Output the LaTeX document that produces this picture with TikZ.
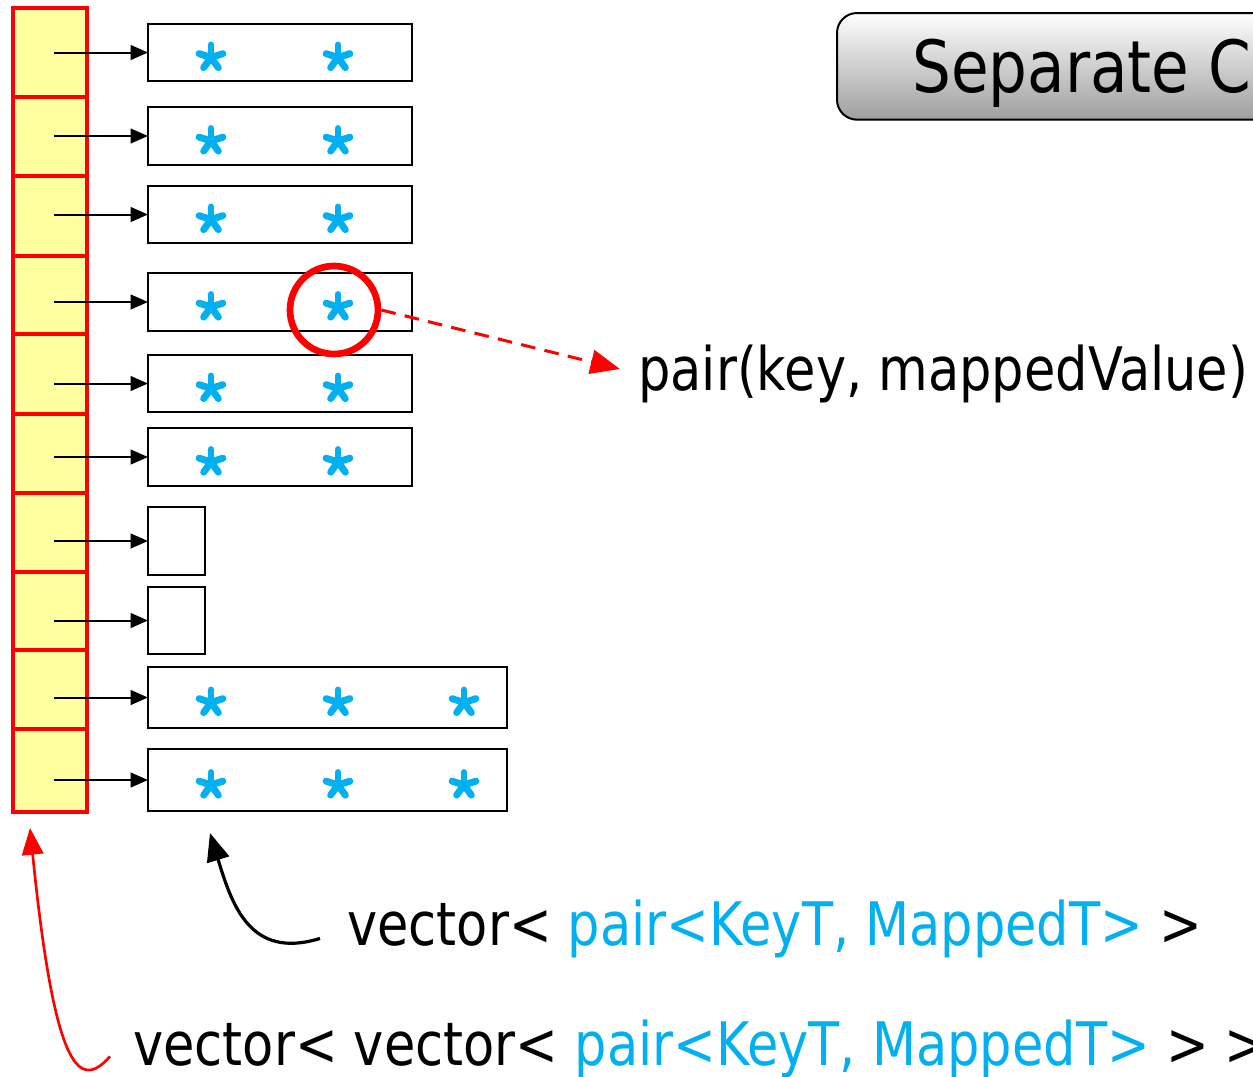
\documentclass[tikz,border=0pt]{standalone}
\usepackage{fontspec}
\setmainfont{DejaVu Sans}[FakeStretch=0.85]
\usetikzlibrary{arrows.meta,calc}
\definecolor{cellyellow}{RGB}{255,255,160}
\definecolor{starblue}{RGB}{0,176,240}
\definecolor{hred}{RGB}{255,0,0}

\tikzset{
  cell/.style={draw=hred, fill=cellyellow, line width=3pt, inner sep=0pt, outer sep=0pt,
    minimum width=55.5pt, anchor=north west},
  bucket/.style={draw=black, line width=1.5pt, inner sep=0pt, outer sep=0pt, anchor=north west},
  ptr/.style={line width=1.5pt, -{Triangle[length=13pt,width=11pt]}},
  asterisk/.pic={
    \foreach \a in {-90,-18,54,126,198}
      \draw[starblue, line width=5.2pt, line cap=round] (0,0) -- (\a:12.5);
  },
  lbl/.style={font=\fontsize{45}{54}\selectfont, inner sep=0pt, anchor=base west},
}

\begin{document}
\begin{tikzpicture}[x=0.75pt, y=-0.75pt]
\useasboundingbox (0,0) rectangle (1253,1076);
\begin{scope}
\clip (0,0) rectangle (1253,1076);

% title banner, running off the right edge
\node[draw=black, line width=1.5pt, rounded corners=15pt, top color=white, bottom color=black!38,
      minimum width=333pt, minimum height=80pt, anchor=north west, inner sep=0pt]
  (banner) at (836,12) {};
\node[font=\fontsize{54}{64}\selectfont, inner sep=0pt, anchor=base west] (title) at (912,92) {Separate Chaining};

% outer vector: the bucket array
\foreach \i/\t/\b in {1/8/97, 2/97/176, 3/176/256, 4/256/334, 5/334/414,
                      6/414/493, 7/493/572, 8/572/650, 9/650/729, 10/729/812}
  \node[cell, minimum height={(\b-\t)*0.75pt}] (c\i) at (13,\t) {};

% inner vectors: one chain per bucket
\foreach \i/\t/\b/\r in {1/24/81/412, 2/107/165/412, 3/186/243/412, 4/273/331/412,
                         5/355/412/412, 6/428/486/412, 7/507/575/205, 8/587/654/205,
                         9/667/728/507, 10/749/811/507}
  \node[bucket, minimum width={(\r-148)*0.75pt}, minimum height={(\b-\t)*0.75pt}] (b\i) at (148,\t) {};

% bucket pointers
\foreach \i in {1,...,10}
  \draw[ptr] ($(c\i.center |- b\i.west)+(4,0)$) -- (b\i.west);

% stored pairs
\foreach \i in {1,...,6}{
  \pic at ($(b\i.west)+(63,5)$) {asterisk};
  \pic at ($(b\i.west)+(190,5)$) {asterisk};
}
\foreach \i in {9,10}{
  \pic at ($(b\i.west)+(63,5)$) {asterisk};
  \pic at ($(b\i.west)+(190,5)$) {asterisk};
  \pic at ($(b\i.west)+(316,5)$) {asterisk};
}

% highlighted element
\node[draw=hred, circle, line width=5pt, minimum size=66pt, inner sep=0pt] (hit) at (334,310) {};
\node[lbl] (pairlbl) at (638,390) {pair(key, mappedValue)};
\draw[hred, line width=2.25pt, dash pattern=on 11pt off 7pt,
      -{Triangle[length=22pt,width=18pt]}, shorten >=14pt]
  (hit.east) -- (pairlbl.west);

% type labels
\node[lbl] (inner) at (347,945) {vector< \textcolor{starblue}{pair<KeyT, MappedT>} >};
\node[lbl] (outer) at (133,1065) {vector< vector< \textcolor{starblue}{pair<KeyT, MappedT>} > >};

\coordinate (innertip) at ($(b10.south west)+(62,22)$);
\coordinate (outertip) at ($(c10.south west)+(17,16)$);

\draw[line width=2.4pt, -{Triangle[length=21pt,width=17pt]}]
  ($(inner.west)+(-27,10)$) .. controls (250,960) and (232,905) .. (innertip);
\draw[hred, line width=2pt, -{Triangle[length=20pt,width=16pt]}]
  ($(outer.west)+(-23,8)$) .. controls (80,1090) and (55,1075) .. (outertip);
\end{scope}
\end{tikzpicture}
\end{document}
